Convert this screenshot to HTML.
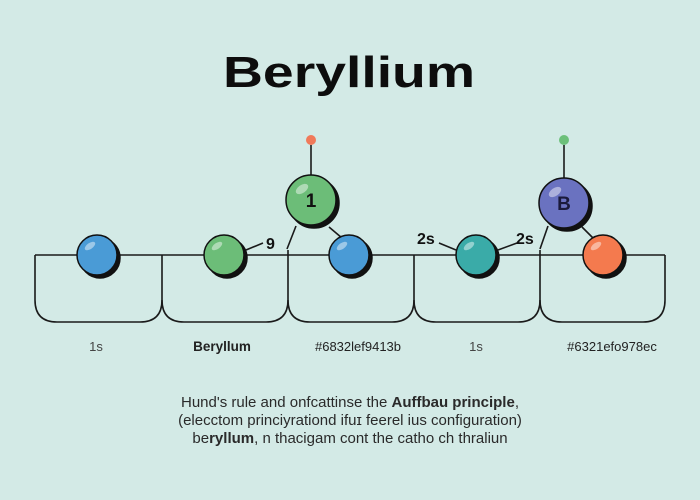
<!DOCTYPE html>
<html><head><meta charset="utf-8"><style>
html,body{margin:0;padding:0;background:#d3eae6;}
svg{display:block}
</style></head><body>
<svg width="700" height="500" viewBox="0 0 700 500" xmlns="http://www.w3.org/2000/svg" font-family="Liberation Sans, sans-serif">
<rect width="700" height="500" fill="#d3eae6"/>
<text x="223" y="87" font-size="44" font-weight="bold" fill="#0d0d0d" textLength="252" lengthAdjust="spacingAndGlyphs">Beryllium</text>
<g fill="none" stroke="#1a1a1a" stroke-width="1.6">
<path d="M35 255 H665"/>
<path d="M35 255 V300 Q35 322 57 322 H140 Q162 322 162 300 V255"/>
<path d="M162 300 Q162 322 184 322 H266 Q288 322 288 300 V250"/>
<path d="M288 300 Q288 322 310 322 H392 Q414 322 414 300 V255"/>
<path d="M414 300 Q414 322 436 322 H518 Q540 322 540 300 V250"/>
<path d="M540 300 Q540 322 562 322 H643 Q665 322 665 300 V255"/>
<path d="M311 145 V176"/><path d="M564 145 V178"/>
<path d="M296 226 L287 249"/><path d="M329 227 L342 238"/>
<path d="M548 226 L540 249"/><path d="M582 227 L593 238"/>
<path d="M246 250 L263 243"/><path d="M439 243 L456 250"/><path d="M498 250 L517 243"/>
</g>
<circle cx="311" cy="140" r="5" fill="#f07a5a"/>
<circle cx="564" cy="140" r="5" fill="#6cc07a"/>
<g stroke="#111" stroke-width="1.5">
<circle cx="100" cy="258" r="20" fill="#111"/><circle cx="97" cy="255" r="20" fill="#4a9bd6"/>
<circle cx="227" cy="258" r="20" fill="#111"/><circle cx="224" cy="255" r="20" fill="#6cbd78"/>
<circle cx="352" cy="258" r="20" fill="#111"/><circle cx="349" cy="255" r="20" fill="#4a9bd6"/>
<circle cx="479" cy="258" r="20" fill="#111"/><circle cx="476" cy="255" r="20" fill="#3aaba8"/>
<circle cx="606" cy="258" r="20" fill="#111"/><circle cx="603" cy="255" r="20" fill="#f47a4e"/>
<circle cx="314" cy="203" r="25" fill="#111"/><circle cx="311" cy="200" r="25" fill="#6cbd78"/>
<circle cx="567" cy="206" r="25" fill="#111"/><circle cx="564" cy="203" r="25" fill="#6a72c0"/>
</g>
<g fill="#fff" opacity="0.45">
<ellipse cx="90" cy="246" rx="6" ry="3" transform="rotate(-35 90 246)"/>
<ellipse cx="217" cy="246" rx="6" ry="3" transform="rotate(-35 217 246)"/>
<ellipse cx="342" cy="246" rx="6" ry="3" transform="rotate(-35 342 246)"/>
<ellipse cx="469" cy="246" rx="6" ry="3" transform="rotate(-35 469 246)"/>
<ellipse cx="596" cy="246" rx="6" ry="3" transform="rotate(-35 596 246)"/>
<ellipse cx="302" cy="189" rx="7" ry="4" transform="rotate(-35 302 189)"/>
<ellipse cx="555" cy="192" rx="7" ry="4" transform="rotate(-35 555 192)"/>
</g>
<text x="311" y="207" font-size="19" font-weight="bold" text-anchor="middle" fill="#111">1</text>
<text x="564" y="210" font-size="19" font-weight="bold" text-anchor="middle" fill="#1a1a3a">B</text>
<g font-size="16" font-weight="bold" fill="#111">
<text x="266" y="249">9</text>
<text x="417" y="244">2s</text>
<text x="516" y="244">2s</text>
</g>
<g font-size="13" text-anchor="middle" fill="#222">
<text x="96" y="351" fill="#444">1s</text>
<text x="222" y="351" font-weight="bold" fill="#222" font-size="13.5">Beryllum</text>
<text x="358" y="351">#6832lef9413b</text>
<text x="476" y="351" fill="#444">1s</text>
<text x="612" y="351">#6321efo978ec</text>
</g>
<g font-size="15" text-anchor="middle" fill="#2a2a2a">
<text x="350" y="407">Hund's rule and onfcattinse the <tspan font-weight="bold">Auffbau principle</tspan>,</text>
<text x="350" y="425">(elecctom princiyrationd ifuɪ feerel  ius configuration)</text>
<text x="350" y="443">be<tspan font-weight="bold">ryllum</tspan>, n thacigam cont the catho ch thraliun</text>
</g>
</svg>
</body></html>
